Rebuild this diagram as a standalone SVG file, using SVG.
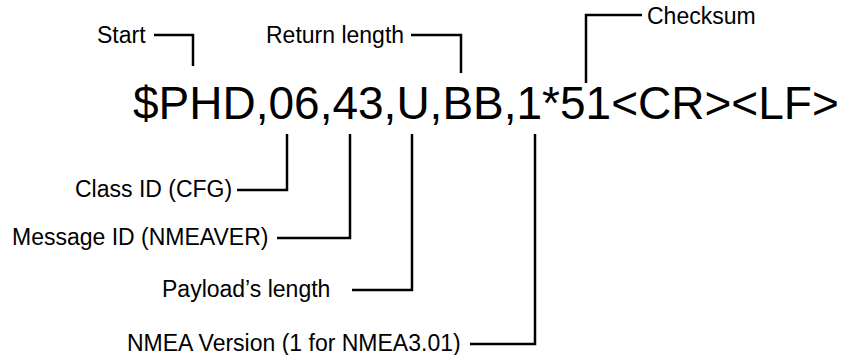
<svg xmlns="http://www.w3.org/2000/svg" width="847" height="355" viewBox="0 0 847 355">
<style>
text{font-family:"Liberation Sans",Arial,sans-serif;fill:#000}
.lbl{font-size:23px}
.main{font-size:46px}
.c{fill:none;stroke:#000;stroke-width:2.5;stroke-linejoin:miter;stroke-linecap:butt}
</style>
<rect width="847" height="355" fill="#fff"/>
<g id="sentence"><text class="main" x="133" y="119">$PHD,06,43,U,BB,1*51&lt;CR&gt;&lt;LF&gt;</text></g>
<g id="start"><text class="lbl" x="97" y="43">Start</text></g>
<g id="return-length"><text class="lbl" x="266" y="43">Return length</text></g>
<g id="checksum"><text class="lbl" x="647" y="24">Checksum</text></g>
<g id="class-id"><text class="lbl" x="75" y="197">Class ID (CFG)</text></g>
<g id="message-id"><text class="lbl" x="12" y="245">Message ID (NMEAVER)</text></g>
<g id="payload-length"><text class="lbl" x="162" y="297">Payload’s length</text></g>
<g id="nmea-version"><text class="lbl" x="127" y="351">NMEA Version (1 for NMEA3.01)</text></g>
<g id="connectors">
<path class="c" d="M154,35 H193 V66"/>
<path class="c" d="M411,35 H461 V73"/>
<path class="c" d="M642,15 H586 V83"/>
<path class="c" d="M237,190 H287 V134"/>
<path class="c" d="M277,238 H350 V134"/>
<path class="c" d="M352,290 H412 V134"/>
<path class="c" d="M470,344 H535 V134"/>
</g>
</svg>
